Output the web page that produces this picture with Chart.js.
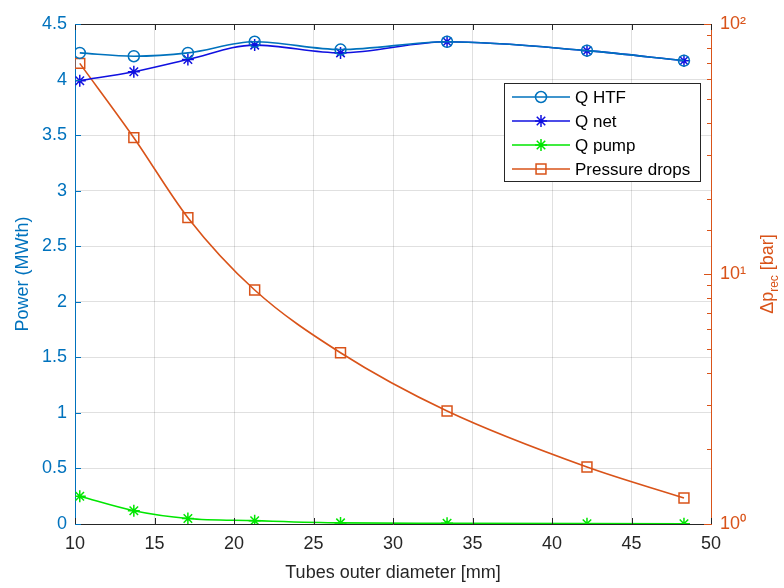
<!DOCTYPE html>
<html>
<head>
<meta charset="utf-8">
<script src="https://cdn.jsdelivr.net/npm/chart.js@4/dist/chart.umd.min.js"></script>
<style>
  html, body { margin: 0; padding: 0; background: #fff; }
  #wrap { width: 784px; height: 588px; position: relative; }
</style>
</head>
<body>
<div id="wrap"><canvas id="powerChart"></canvas></div>
<script>
// tube outer diameters [mm] (x axis)
const diameters = [10.3, 13.7, 17.1, 21.3, 26.7, 33.4, 42.2, 48.3];
// power series (MWth), left axis
const qHtf = [4.24, 4.21, 4.24, 4.34, 4.27, 4.34, 4.26, 4.17];
const qNet = [3.99, 4.07, 4.18, 4.31, 4.24, 4.34, 4.26, 4.17];
const qPump = [0.25, 0.12, 0.05, 0.03, 0.01, 0.006, 0.003, 0.002];
// pressure drops [bar], right log axis
const pressureDrops = [69.6, 35.1, 16.8, 8.63, 4.84, 2.83, 1.69, 1.27];
const pressureTickLabels = { 1: "10\u2070", 10: "10\u00b9", 100: "10\u00b2" };

const BLUE = "#0072BD";
const ORANGE = "#D95319";
const DARK = "#262626";
const GRID = "rgba(0,0,0,0.12)";

Chart.defaults.font.family = "'Liberation Sans', Arial, Helvetica, sans-serif";

const pts = ys => diameters.map((d, i) => ({ x: d, y: ys[i] }));

function drawMarker(ctx, style, x, y, r, color) {
  ctx.strokeStyle = color;
  ctx.lineWidth = 1.5;
  ctx.beginPath();
  if (style === "circle") {
    ctx.arc(x, y, r, 0, Math.PI * 2);
  } else if (style === "rect") {
    const s = r / Math.SQRT2;
    ctx.rect(x - s, y - s, 2 * s, 2 * s);
  } else {
    const d = r * Math.SQRT1_2;
    ctx.moveTo(x - r, y); ctx.lineTo(x + r, y);
    ctx.moveTo(x, y - r); ctx.lineTo(x, y + r);
    ctx.moveTo(x - d, y - d); ctx.lineTo(x + d, y + d);
    ctx.moveTo(x - d, y + d); ctx.lineTo(x + d, y - d);
  }
  ctx.stroke();
}

// boxed legend inside the plot + inward ticks + right title with subscript
const matlabLook = {
  id: "matlabLook",
  afterDraw(chart) {
    const ctx = chart.ctx;
    const a = chart.chartArea;
    const { x, y, y2 } = chart.scales;
    ctx.save();

    // top edge of the box
    ctx.strokeStyle = DARK;
    ctx.lineWidth = 1;
    ctx.beginPath();
    ctx.moveTo(a.left, a.top + 0.5);
    ctx.lineTo(a.right, a.top + 0.5);
    ctx.stroke();

    // inward ticks
    const tick = (x0, y0, x1, y1, c) => {
      ctx.strokeStyle = c;
      ctx.beginPath(); ctx.moveTo(x0, y0); ctx.lineTo(x1, y1); ctx.stroke();
    };
    x.ticks.forEach(t => {
      const px = Math.round(x.getPixelForValue(t.value)) + 0.5;
      tick(px, a.bottom, px, a.bottom - 6, DARK);
      tick(px, a.top, px, a.top + 6, DARK);
    });
    y.ticks.forEach(t => {
      const py = Math.round(y.getPixelForValue(t.value)) + 0.5;
      tick(a.left, py, a.left + 6, py, BLUE);
    });
    y2.ticks.forEach(t => {
      const py = Math.round(y2.getPixelForValue(t.value)) + 0.5;
      const len = pressureTickLabels[t.value] ? 7 : 4;
      tick(a.right, py, a.right - len, py, ORANGE);
    });

    // legend
    const lx = 504, ly = 83, lw = 196, lh = 98;
    ctx.fillStyle = "#fff";
    ctx.fillRect(lx, ly, lw, lh);
    ctx.strokeStyle = DARK;
    ctx.lineWidth = 1;
    ctx.strokeRect(lx + 0.5, ly + 0.5, lw, lh);
    ctx.font = "17px " + Chart.defaults.font.family;
    ctx.textBaseline = "middle";
    chart.data.datasets.forEach((ds, i) => {
      const ry = ly + 14 + i * 24;
      ctx.strokeStyle = ds.borderColor;
      ctx.lineWidth = ds.borderWidth;
      ctx.beginPath(); ctx.moveTo(lx + 8, ry); ctx.lineTo(lx + 66, ry); ctx.stroke();
      drawMarker(ctx, ds.pointStyle, lx + 37, ry, ds.pointRadius, ds.borderColor);
      ctx.fillStyle = "#000";
      ctx.fillText(ds.label, lx + 71, ry + 1);
    });

    // right axis title: Δp_rec [bar]
    const big = "18px " + Chart.defaults.font.family;
    const small = "12px " + Chart.defaults.font.family;
    ctx.font = big;
    const w1 = ctx.measureText("\u0394p").width;
    const w3 = ctx.measureText(" [bar]").width;
    ctx.font = small;
    const w2 = ctx.measureText("rec").width;
    const total = w1 + w2 + w3;
    ctx.translate(768, (a.top + a.bottom) / 2);
    ctx.rotate(-Math.PI / 2);
    ctx.fillStyle = ORANGE;
    ctx.textBaseline = "middle";
    ctx.textAlign = "left";
    let cx = -total / 2;
    ctx.font = big; ctx.fillText("\u0394p", cx, 0); cx += w1;
    ctx.font = small; ctx.fillText("rec", cx, 7); cx += w2;
    ctx.font = big; ctx.fillText(" [bar]", cx, 0);
    ctx.restore();
  }
};

new Chart(document.getElementById("powerChart"), {
  type: "line",
  data: {
    datasets: [
      { label: "Q HTF", data: pts(qHtf), yAxisID: "y", borderColor: BLUE, borderWidth: 1.6,
        pointStyle: "circle", pointRadius: 5.5, pointBorderWidth: 1.5, pointBackgroundColor: "transparent" },
      { label: "Q net", data: pts(qNet), yAxisID: "y", borderColor: "#1010E0", borderWidth: 1.6,
        pointStyle: "star", pointRadius: 6, pointBorderWidth: 1.5 },
      { label: "Q pump", data: pts(qPump), yAxisID: "y", borderColor: "#00E600", borderWidth: 1.6,
        pointStyle: "star", pointRadius: 6, pointBorderWidth: 1.5 },
      { label: "Pressure drops", data: pts(pressureDrops), yAxisID: "y2", borderColor: ORANGE, borderWidth: 1.6,
        pointStyle: "rect", pointRadius: 7, pointBorderWidth: 1.5, pointBackgroundColor: "transparent" }
    ]
  },
  options: {
    responsive: true,
    maintainAspectRatio: false,
    animation: false,
    cubicInterpolationMode: "monotone",
    layout: { padding: { top: 24, left: 0, right: 0, bottom: 0 } },
    plugins: { legend: { display: false }, tooltip: { enabled: false } },
    scales: {
      x: {
        type: "linear", min: 10, max: 50,
        ticks: { stepSize: 5, color: DARK, font: { size: 18 }, padding: 9, maxRotation: 0 },
        grid: { color: GRID, drawTicks: false },
        border: { color: DARK },
        title: { display: true, text: "Tubes outer diameter [mm]", color: DARK, font: { size: 18 }, padding: { top: 0, bottom: 4 } },
        afterFit: s => { s.height = 64; }
      },
      y: {
        type: "linear", position: "left", min: 0, max: 4.5,
        ticks: { stepSize: 0.5, color: BLUE, font: { size: 18 }, padding: 8, callback: v => String(v) },
        grid: { color: GRID, drawTicks: false },
        border: { color: BLUE },
        title: { display: true, text: "Power (MWth)", color: BLUE, font: { size: 18 }, padding: { top: 12, bottom: 0 } },
        afterFit: s => { s.width = 75; }
      },
      y2: {
        type: "logarithmic", position: "right", min: 1, max: 100,
        ticks: { color: ORANGE, font: { size: 18 }, padding: 9, autoSkip: false,
          callback: v => pressureTickLabels[v] || "" },
        grid: { drawOnChartArea: false, drawTicks: false },
        border: { color: ORANGE },
        afterFit: s => { s.width = 73; }
      }
    }
  },
  plugins: [matlabLook]
});
</script>
</body>
</html>
